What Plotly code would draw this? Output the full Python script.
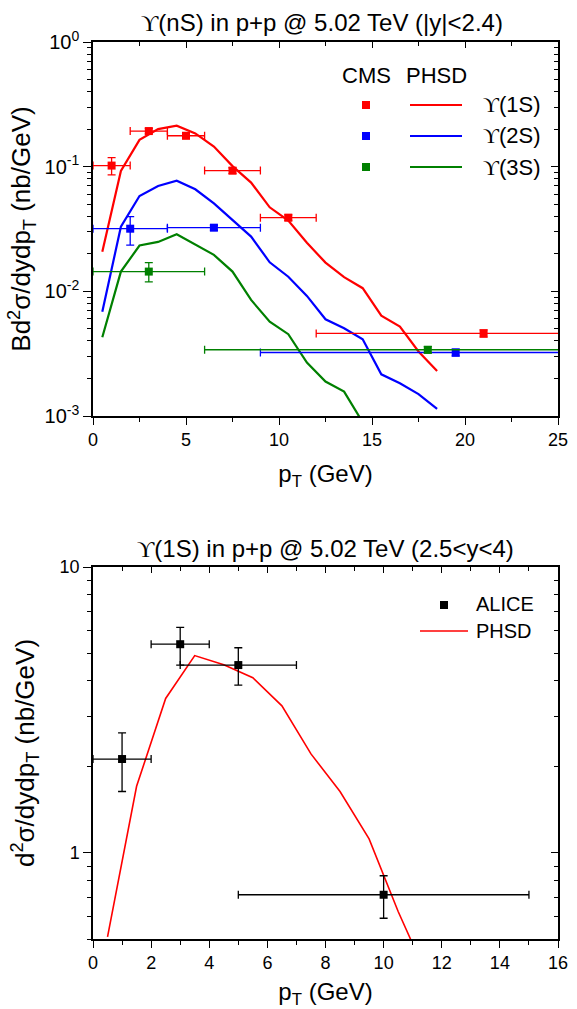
import plotly.graph_objects as go

# ---------------- Data: top panel (CMS + PHSD, |y|<2.4) ----------------
cms_1s_pt = [1, 3, 5, 7.5, 10.5, 21]
cms_1s = [0.102, 0.193, 0.177, 0.093, 0.039, 0.0046]
cms_1s_xerr = [1, 1, 1, 1.5, 1.5, 9]
cms_1s_yerr = [0.016, 0.010, 0.009, 0.005, 0.002, 0.0003]

cms_2s_pt = [2, 6.5, 19.5]
cms_2s = [0.0318, 0.0324, 0.00323]
cms_2s_xerr = [2, 2.5, 10.5]
cms_2s_yerr_up = [0.0079, 0.0015, 0.0002]
cms_2s_yerr_dn = [0.0083, 0.0015, 0.0002]

cms_3s_pt = [3, 18]
cms_3s = [0.0144, 0.0034]
cms_3s_xerr = [3, 12]
cms_3s_yerr_up = [0.0026, 0.0002]
cms_3s_yerr_dn = [0.0025, 0.0002]

phsd_pt = [0.5, 1.5, 2.5, 3.5, 4.5, 5.5, 6.5, 7.5, 8.5, 9.5, 10.5, 11.5,
           12.5, 13.5, 14.5, 15.5, 16.5, 17.5, 18.5]
phsd_1s = [0.0208, 0.0924, 0.164, 0.200, 0.213, 0.185, 0.145, 0.101, 0.0745,
           0.0472, 0.037, 0.0245, 0.017, 0.013, 0.0106, 0.00638, 0.00521,
           0.00329, 0.0023]
phsd_2s = [0.00687, 0.033, 0.0582, 0.070, 0.0772, 0.0659, 0.0508, 0.0374,
           0.0275, 0.0171, 0.0131, 0.00919, 0.00597, 0.00506, 0.00413,
           0.00216, 0.00183, 0.0015, 0.00114]
phsd_3s_pt = [0.5, 1.5, 2.5, 3.5, 4.5, 5.5, 6.5, 7.5, 8.5, 9.5, 10.5, 11.5,
              12.5, 13.5, 14.5]
phsd_3s = [0.00428, 0.0144, 0.0233, 0.0249, 0.0287, 0.0239, 0.0196, 0.0144,
           0.00853, 0.00571, 0.00453, 0.00268, 0.00189, 0.00157, 0.00089]

top_yticks = [1e-3, 1e-2, 1e-1, 1]
top_yticktext = ["10<sup>-3</sup>", "10<sup>-2</sup>", "10<sup>-1</sup>", "10<sup>0</sup>"]

# ---------------- Data: bottom panel (ALICE + PHSD, 2.5<y<4) ----------------
alice_pt = [1, 3, 5, 10]
alice = [2.13, 5.37, 4.54, 0.714]
alice_xerr = [1, 1, 2, 5]
alice_yerr_up = [0.50, 0.78, 0.68, 0.118]
alice_yerr_dn = [0.49, 0.83, 0.68, 0.123]

phsd_fwd_pt = [0.5, 1.5, 2.5, 3.5, 4.5, 5.5, 6.5, 7.5, 8.5, 9.5, 10.5, 11.5]
phsd_fwd = [0.509, 1.71, 3.47, 4.90, 4.55, 4.10, 3.27, 2.22, 1.64, 1.12, 0.624, 0.37]

bot_yticks = [1, 10]
bot_yticktext = ["1", "10"]

RED, BLUE, GREEN, BLACK = "#ff0000", "#0000ff", "#008000", "#000000"
FONT = "Liberation Sans, Arial, sans-serif"
UPS = "<span style=\"font-family:'Liberation Serif', 'DejaVu Serif', serif\">\u03d2</span>"

W, H = 577, 1009
def px(x):
    return x / W
def py(y):
    return 1 - y / H

# plot areas in pixels
TX0, TX1, TY0, TY1 = 93, 558, 42, 416
BX0, BX1, BY0, BY1 = 93, 558, 567, 939

fig = go.Figure()

def add_points(x, y, xe, ye_up, ye_dn, color, xa, ya, size=8):
    fig.add_trace(go.Scatter(
        x=x, y=y, mode="markers", xaxis=xa, yaxis=ya, showlegend=False,
        marker=dict(symbol="square", size=size, color=color),
        error_x=dict(type="data", array=xe, arrayminus=xe, color=color,
                     thickness=1.3, width=4),
        error_y=dict(type="data", array=ye_up, arrayminus=ye_dn, color=color,
                     thickness=1.3, width=4),
    ))

def add_line(x, y, color, xa, ya, width=2.2):
    fig.add_trace(go.Scatter(
        x=x, y=y, mode="lines", xaxis=xa, yaxis=ya, showlegend=False,
        line=dict(color=color, width=width),
    ))

# top panel
add_line(phsd_pt, phsd_1s, RED, "x", "y")
add_line(phsd_pt, phsd_2s, BLUE, "x", "y")
add_line(phsd_3s_pt, phsd_3s, GREEN, "x", "y")
add_points(cms_1s_pt, cms_1s, cms_1s_xerr, cms_1s_yerr, cms_1s_yerr, RED, "x", "y")
add_points(cms_2s_pt, cms_2s, cms_2s_xerr, cms_2s_yerr_up, cms_2s_yerr_dn, BLUE, "x", "y")
add_points(cms_3s_pt, cms_3s, cms_3s_xerr, cms_3s_yerr_up, cms_3s_yerr_dn, GREEN, "x", "y")

# bottom panel
add_line(phsd_fwd_pt, phsd_fwd, RED, "x2", "y2", width=1.6)
add_points(alice_pt, alice, alice_xerr, alice_yerr_up, alice_yerr_dn, BLACK, "x2", "y2")

# empty traces on mirror axes (so they render)
for xa, ya in (("x3", "y3"), ("x4", "y4")):
    fig.add_trace(go.Scatter(x=[None], y=[None], xaxis=xa, yaxis=ya,
                             showlegend=False, hoverinfo="skip"))

tickfont = dict(family=FONT, size=18, color="black")
ytickfont_top = dict(family=FONT, size=20, color="black")
xtitlefont = dict(family=FONT, size=24, color="black")
ytitlefont = dict(family=FONT, size=26, color="black")

top_minor_y = [k * 10 ** e for e in (-3, -2, -1) for k in range(2, 10)]
bot_minor_y = [0.5, 0.6, 0.7, 0.8, 0.9] + [k for k in range(2, 10)]

xdom = [px(TX0), px(TX1)]
top_ydom = [py(TY1), py(TY0)]
bot_ydom = [py(BY1), py(BY0)]

common_ax = dict(showline=True, linecolor="black", linewidth=1.5, showgrid=False,
                 zeroline=False, tickcolor="black", tickwidth=1.3, automargin=False)

fig.update_layout(
    width=W, height=H, margin=dict(l=0, r=0, t=0, b=0, autoexpand=False),
    paper_bgcolor="white", plot_bgcolor="white",
    font=dict(family=FONT, color="black"),
    xaxis=dict(domain=xdom, anchor="y", range=[0, 25], tickvals=[0, 5, 10, 15, 20, 25],
               ticks="outside", ticklen=7, tickfont=tickfont,
               minor=dict(tickvals=[2.5, 7.5, 12.5, 17.5, 22.5], ticks="outside",
                          ticklen=4, tickcolor="black", tickwidth=1.3),
               title=dict(text="p<sub>T</sub> (GeV)", font=xtitlefont, standoff=16),
               **common_ax),
    yaxis=dict(domain=top_ydom, anchor="x", type="log", range=[-3, 0],
               tickvals=top_yticks, ticktext=top_yticktext,
               ticks="outside", ticklen=8, tickfont=ytickfont_top,
               minor=dict(tickvals=top_minor_y, ticks="outside", ticklen=4,
                          tickcolor="black", tickwidth=1.3),
               title=dict(text="Bd<sup>2</sup>\u03c3/dydp<sub>T</sub> (nb/GeV)",
                          font=ytitlefont, standoff=6),
               **common_ax),
    xaxis3=dict(overlaying="x", anchor="y", side="top", range=[0, 25],
                tickvals=[0, 5, 10, 15, 20, 25], ticks="inside", ticklen=6,
                showticklabels=False,
                minor=dict(tickvals=[2.5, 7.5, 12.5, 17.5, 22.5], ticks="inside",
                           ticklen=4, tickcolor="black", tickwidth=1.3),
                **common_ax),
    yaxis3=dict(overlaying="y", anchor="x", side="right", type="log", range=[-3, 0],
                tickvals=top_yticks, ticks="inside", ticklen=7, showticklabels=False,
                minor=dict(tickvals=top_minor_y, ticks="inside", ticklen=4,
                           tickcolor="black", tickwidth=1.3),
                **common_ax),
    xaxis2=dict(domain=xdom, anchor="y2", range=[0, 16],
                tickvals=list(range(0, 17, 2)), ticks="outside", ticklen=7,
                tickfont=tickfont,
                minor=dict(tickvals=list(range(1, 16, 2)), ticks="outside",
                           ticklen=4, tickcolor="black", tickwidth=1.3),
                title=dict(text="p<sub>T</sub> (GeV)", font=xtitlefont, standoff=16),
                **common_ax),
    yaxis2=dict(domain=bot_ydom, anchor="x2", type="log",
                range=[-0.30103, 1], tickvals=bot_yticks, ticktext=bot_yticktext,
                ticks="outside", ticklen=8, tickfont=tickfont,
                minor=dict(tickvals=bot_minor_y, ticks="outside", ticklen=4,
                           tickcolor="black", tickwidth=1.3),
                title=dict(text="d<sup>2</sup>\u03c3/dydp<sub>T</sub> (nb/GeV)",
                           font=ytitlefont, standoff=18),
                **common_ax),
    xaxis4=dict(overlaying="x2", anchor="y2", side="top", range=[0, 16],
                tickvals=list(range(0, 17, 2)), ticks="inside", ticklen=6,
                showticklabels=False,
                minor=dict(tickvals=list(range(1, 16, 2)), ticks="inside",
                           ticklen=4, tickcolor="black", tickwidth=1.3),
                **common_ax),
    yaxis4=dict(overlaying="y2", anchor="x2", side="right", type="log",
                range=[-0.30103, 1], tickvals=bot_yticks, ticks="inside", ticklen=7,
                showticklabels=False,
                minor=dict(tickvals=bot_minor_y, ticks="inside", ticklen=4,
                           tickcolor="black", tickwidth=1.3),
                **common_ax),
)

ann = []
shapes = []
# titles
ann.append(dict(text=UPS + "(nS) in p+p @ 5.02 TeV (|y|<2.4)", x=px(322), y=py(22),
                xref="paper", yref="paper", showarrow=False, xanchor="center",
                yanchor="middle", font=dict(family=FONT, size=24)))
ann.append(dict(text=UPS + "(1S) in p+p @ 5.02 TeV (2.5<y<4)", x=px(325), y=py(548),
                xref="paper", yref="paper", showarrow=False, xanchor="center",
                yanchor="middle", font=dict(family=FONT, size=24)))

# top legend
ann.append(dict(text="CMS", x=px(366), y=py(75), xref="paper", yref="paper",
                showarrow=False, xanchor="center", yanchor="middle",
                font=dict(family=FONT, size=22)))
ann.append(dict(text="PHSD", x=px(436), y=py(75), xref="paper", yref="paper",
                showarrow=False, xanchor="center", yanchor="middle",
                font=dict(family=FONT, size=22)))
leg_labels = ["(1S)", "(2S)", "(3S)"]
leg_colors = [RED, BLUE, GREEN]
leg_y = [105, 136, 167]
for lab, c, yy in zip(leg_labels, leg_colors, leg_y):
    shapes.append(dict(type="rect", xref="paper", yref="paper",
                       x0=px(362), x1=px(370), y0=py(yy + 4), y1=py(yy - 4),
                       fillcolor=c, line=dict(width=0)))
    shapes.append(dict(type="line", xref="paper", yref="paper",
                       x0=px(410), x1=px(462), y0=py(yy), y1=py(yy),
                       line=dict(color=c, width=2.2)))
    ann.append(dict(text=UPS + lab, x=px(481), y=py(yy), xref="paper", yref="paper",
                    showarrow=False, xanchor="left", yanchor="middle",
                    font=dict(family=FONT, size=22)))

# bottom legend
shapes.append(dict(type="rect", xref="paper", yref="paper",
                   x0=px(440), x1=px(448), y0=py(609), y1=py(601),
                   fillcolor=BLACK, line=dict(width=0)))
ann.append(dict(text="ALICE", x=px(474), y=py(604), xref="paper", yref="paper",
                showarrow=False, xanchor="left", yanchor="middle",
                font=dict(family=FONT, size=20)))
shapes.append(dict(type="line", xref="paper", yref="paper",
                   x0=px(420), x1=px(468), y0=py(631), y1=py(631),
                   line=dict(color=RED, width=1.6)))
ann.append(dict(text="PHSD", x=px(474), y=py(631), xref="paper", yref="paper",
                showarrow=False, xanchor="left", yanchor="middle",
                font=dict(family=FONT, size=20)))

fig.update_layout(annotations=ann, shapes=shapes)

fig.write_html("out.html")
